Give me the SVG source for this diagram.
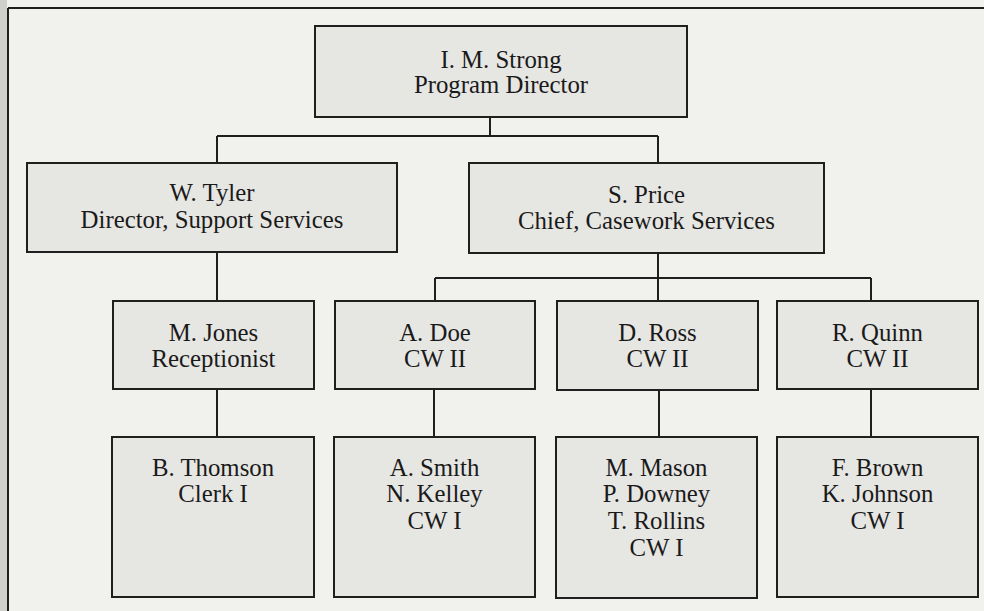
<svg xmlns="http://www.w3.org/2000/svg" width="984" height="611" viewBox="0 0 984 611">
<style>
.box{fill:#e6e6e3;stroke:#1f1f1f;stroke-width:2}
.ln{stroke:#1f1f1f;stroke-width:2;fill:none}
text{font-family:"Liberation Serif","Times New Roman",serif;font-size:24.8px;fill:#1a1a1a;text-anchor:middle}
</style>
<rect width="984" height="611" fill="#f1f1ee"/>
<rect x="0" y="0" width="7" height="611" fill="#cfcfcb"/>
<g id="frame" class="ln">
<path d="M8 8H984M8 8V611"/>
</g>
<g id="connectors" class="ln">
<path d="M490 117V136M217 136H658M217 136V163M658 136V163"/>
<path d="M217 252V301M658 253V301M435 278H871M435 278V301M871 278V301"/>
<path d="M217 389V437M434 389V437M659 390V437M871 389V437"/>
</g>
<g id="strong"><rect class="box" x="315" y="26" width="372" height="91"/><text x="501" y="68">I. M. Strong</text><text x="501" y="93">Program Director</text></g>
<g id="tyler"><rect class="box" x="27" y="163" width="370" height="89"/><text x="212" y="201">W. Tyler</text><text x="212" y="228">Director, Support Services</text></g>
<g id="price"><rect class="box" x="469" y="163" width="355" height="90"/><text x="646.5" y="203">S. Price</text><text x="646.5" y="229">Chief, Casework Services</text></g>
<g id="jones"><rect class="box" x="113" y="301" width="201" height="88"/><text x="213.5" y="341">M. Jones</text><text x="213.5" y="367">Receptionist</text></g>
<g id="doe"><rect class="box" x="335" y="301" width="200" height="88"/><text x="435" y="341">A. Doe</text><text x="435" y="367">CW II</text></g>
<g id="ross"><rect class="box" x="557" y="301" width="201" height="89"/><text x="657.5" y="341">D. Ross</text><text x="657.5" y="367">CW II</text></g>
<g id="quinn"><rect class="box" x="777" y="301" width="201" height="88"/><text x="877.5" y="341">R. Quinn</text><text x="877.5" y="367">CW II</text></g>
<g id="thomson"><rect class="box" x="112" y="437" width="202" height="160"/><text x="213" y="476">B. Thomson</text><text x="213" y="502">Clerk I</text></g>
<g id="smith"><rect class="box" x="334" y="437" width="201" height="160"/><text x="434.5" y="476">A. Smith</text><text x="434.5" y="502">N. Kelley</text><text x="434.5" y="529">CW I</text></g>
<g id="mason"><rect class="box" x="556" y="437" width="201" height="161"/><text x="656.5" y="476">M. Mason</text><text x="656.5" y="502">P. Downey</text><text x="656.5" y="529">T. Rollins</text><text x="656.5" y="556">CW I</text></g>
<g id="brown"><rect class="box" x="777" y="437" width="201" height="160"/><text x="877.5" y="476">F. Brown</text><text x="877.5" y="502">K. Johnson</text><text x="877.5" y="529">CW I</text></g>
</svg>
